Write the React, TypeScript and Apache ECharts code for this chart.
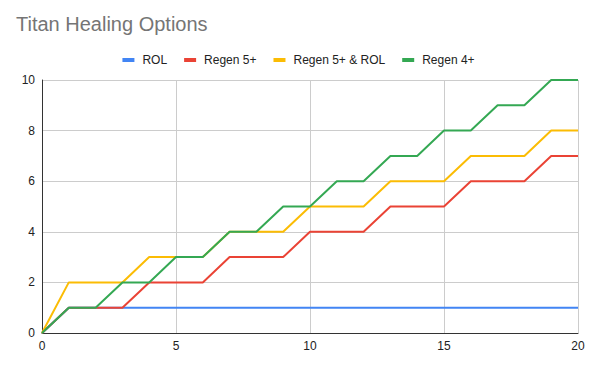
import React, { useEffect, useRef } from "react";
import * as echarts from "echarts";

const xValues = [0, 1, 2, 3, 4, 5, 6, 7, 8, 9, 10, 11, 12, 13, 14, 15, 16, 17, 18, 19, 20];
const rol = [0, 1, 1, 1, 1, 1, 1, 1, 1, 1, 1, 1, 1, 1, 1, 1, 1, 1, 1, 1, 1];
const regen5 = [0, 1, 1, 1, 2, 2, 2, 3, 3, 3, 4, 4, 4, 5, 5, 5, 6, 6, 6, 7, 7];
const regen5Rol = [0, 2, 2, 2, 3, 3, 3, 4, 4, 4, 5, 5, 5, 6, 6, 6, 7, 7, 7, 8, 8];
const regen4 = [0, 1, 1, 2, 2, 3, 3, 4, 4, 5, 5, 6, 6, 7, 7, 8, 8, 9, 9, 10, 10];

const seriesNames = ["ROL", "Regen 5+", "Regen 5+ & ROL", "Regen 4+"];
const seriesColors = ["#4285F4", "#EA4335", "#FBBC04", "#34A853"];
const seriesData = [rol, regen5, regen5Rol, regen4];

const FONT = "'Liberation Sans', Arial, sans-serif";

export default function App() {
  const ref = useRef<HTMLDivElement>(null);
  useEffect(() => {
    const chart = echarts.init(ref.current!, null, { renderer: "svg" });
    chart.setOption({
      animation: false,
      backgroundColor: "#ffffff",
      textStyle: { fontFamily: FONT },
      title: {
        text: "Titan Healing Options",
        left: 11,
        top: 9,
        textStyle: { fontSize: 20, fontWeight: "normal", color: "#757575", fontFamily: FONT },
      },
      legend: {
        top: 49,
        left: "center",
        icon: "rect",
        itemWidth: 12,
        itemHeight: 4,
        itemGap: 17,
        textStyle: { fontSize: 12, color: "#222222", fontFamily: FONT, padding: [0, 0, 0, 3] },
        data: seriesNames,
      },
      grid: { left: 42, right: 19, top: 80, bottom: 36, containLabel: false },
      xAxis: {
        type: "value",
        min: 0,
        max: 20,
        interval: 5,
        axisLine: { show: true, lineStyle: { color: "#333333", width: 1 } },
        axisTick: { show: false },
        axisLabel: { color: "#222222", fontSize: 12, margin: 7, fontFamily: FONT },
        splitLine: { show: true, lineStyle: { color: "#cccccc" } },
      },
      yAxis: {
        type: "value",
        min: 0,
        max: 10,
        interval: 2,
        axisLine: { show: true, lineStyle: { color: "#333333", width: 1 } },
        axisTick: { show: false },
        axisLabel: { color: "#222222", fontSize: 12, margin: 7, fontFamily: FONT },
        splitLine: { show: true, lineStyle: { color: "#cccccc" } },
      },
      series: seriesData.map((d, i) => ({
        name: seriesNames[i],
        type: "line",
        data: xValues.map((x, j) => [x, d[j]]),
        showSymbol: false,
        symbol: "none",
        lineStyle: { width: 2, color: seriesColors[i] },
        itemStyle: { color: seriesColors[i] },
      })),
    });
    return () => chart.dispose();
  }, []);
  return <div ref={ref} style={{ width: 597, height: 369, position: "absolute", left: 0, top: 0 }} />;
}
